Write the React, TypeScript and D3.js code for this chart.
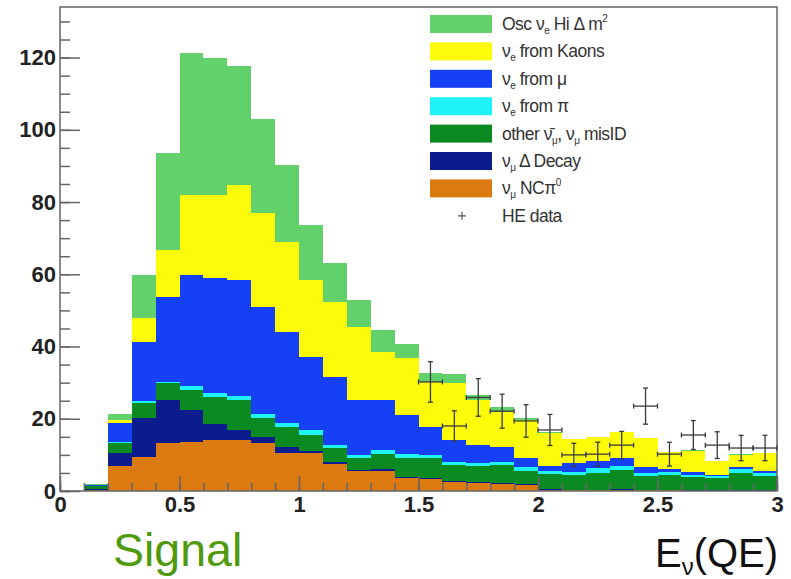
import { useEffect, useRef } from "react";
import * as d3 from "d3";

// lower edge of each 0.1 GeV bin
const binLow = [0.1, 0.2, 0.3, 0.4, 0.5, 0.6, 0.7, 0.8, 0.9, 1.0, 1.1, 1.2, 1.3, 1.4, 1.5, 1.6, 1.7, 1.8, 1.9, 2.0, 2.1, 2.2, 2.3, 2.4, 2.5, 2.6, 2.7, 2.8, 2.9];

// stacked contributions, bottom to top
const ncPi0 = [0.2, 7, 9.3, 13.3, 13.6, 14.1, 14, 13.2, 10.6, 10.5, 7.5, 5.4, 5.6, 3.5, 3.3, 2.5, 2.2, 1.9, 1.7, 0.4, 0.3, 0.3, 0.4, 0.2, 0.2, 0.1, 0.1, 0.1, 0.1];
const deltaDecay = [0.4, 3.5, 11, 11.9, 8.7, 4.4, 3, 1.8, 1.7, 0.7, 0.5, 0.5, 0.4, 0.5, 0.2, 0.2, 0.2, 0.2, 0.2, 0.1, 0.1, 0.1, 0.1, 0.1, 0.1, 0.1, 0.1, 0.1, 0.1];
const otherMisID = [0.8, 2.8, 4, 4.6, 5.7, 7.5, 8.2, 5.2, 5.4, 4.4, 3.9, 3.2, 4.2, 5.2, 5.7, 4.5, 4.5, 5.1, 3.7, 4.1, 4, 4.6, 5.3, 3.8, 4.1, 3.7, 3.4, 4.8, 4];
const nueFromPi = [0, 0.3, 0.5, 0.5, 1, 1, 1, 1, 1.1, 1.3, 0.8, 0.9, 1.1, 1.1, 0.9, 0.8, 0.8, 0.8, 1, 0.8, 0.9, 1.3, 1.1, 0.9, 0.9, 0.5, 0.6, 1.1, 0.8];
const nueFromMu = [0.2, 5.2, 16.4, 23.4, 30.7, 31.9, 32.2, 29.7, 25.2, 20.1, 18.8, 15.2, 13.9, 10.7, 7.6, 6.1, 5, 4.2, 2.5, 1.6, 2.4, 2, 2.1, 1.6, 0.8, 0.9, 0.3, 0.5, 0.5];
const nueFromKaons = [0.1, 0.8, 6.7, 13, 22.2, 23, 26.2, 26, 24.9, 21.4, 20.8, 20.2, 13.3, 15.8, 12.5, 15.9, 12.5, 9.7, 10.5, 9, 6.6, 6.7, 7.3, 8.1, 4.7, 5.7, 3.8, 3.4, 4.9];
const oscHiDm2 = [0.2, 1.6, 11.8, 26.8, 39.5, 38.1, 33.2, 26, 21.3, 15.2, 10.7, 7.4, 6, 3.9, 2.4, 2.5, 1.4, 1.3, 0.6, 0.3, 0.2, 0, 0, 0, 0, 0.4, 0, 0.3, 0];

// HE data points
const dataE = [1.55, 1.65, 1.75, 1.85, 1.95, 2.05, 2.15, 2.25, 2.35, 2.45, 2.55, 2.65, 2.75, 2.85, 2.95];
const dataCounts = [30.2, 18, 25.9, 22.1, 19.4, 16.9, 10, 10.2, 12.7, 23.5, 10.2, 15.5, 12.7, 11.9, 11.9];
const dataErr = [5.6, 4.2, 5.2, 4.7, 4.5, 4.3, 3.2, 3.3, 3.8, 5, 3.3, 4, 3.7, 3.5, 3.5];

const xTicks = [0, 0.5, 1, 1.5, 2, 2.5, 3];
const yTicks = [0, 20, 40, 60, 80, 100, 120];

const layerKeys = ["nc", "delta", "misid", "pi", "mu", "kaon", "osc"];
const layerColors = {
  nc: "#dc7a12",
  delta: "#0c1c8c",
  misid: "#0b8a22",
  pi: "#1ef4f8",
  mu: "#1540f4",
  kaon: "#fbfb0a",
  osc: "#62d16c"
};

// legend rows: [key, parts], part = [text, "sub" | "sup" | ""]
const legendRows = [
  ["osc", [["Osc ν", ""], ["e", "sub"], [" Hi Δ m", ""], ["2", "sup"]]],
  ["kaon", [["ν", ""], ["e", "sub"], [" from Kaons", ""]]],
  ["mu", [["ν", ""], ["e", "sub"], [" from μ", ""]]],
  ["pi", [["ν", ""], ["e", "sub"], [" from π", ""]]],
  ["misid", [["other ν\u0304", ""], ["μ", "sub"], [", ν", ""], ["μ", "sub"], [" misID", ""]]],
  ["delta", [["ν", ""], ["μ", "sub"], [" Δ Decay", ""]]],
  ["nc", [["ν", ""], ["μ", "sub"], [" NCπ", ""], ["0", "sup"]]],
  ["data", [["HE data", ""]]]
];

function App() {
  const svgRef = useRef(null);

  useEffect(() => {
    const svg = d3.select(svgRef.current);
    svg.selectAll("*").remove();

    const x = d3.scaleLinear().domain([0, 3]).range([60, 777]);
    const y = d3.scaleLinear().domain([0, 134]).range([491, 7]);

    const rows = binLow.map((lo, i) => ({
      lo,
      nc: ncPi0[i],
      delta: deltaDecay[i],
      misid: otherMisID[i],
      pi: nueFromPi[i],
      mu: nueFromMu[i],
      kaon: nueFromKaons[i],
      osc: oscHiDm2[i]
    }));
    const series = d3.stack().keys(layerKeys)(rows);

    const bars = svg.append("g").attr("shape-rendering", "crispEdges");
    series.forEach(layer => {
      bars.append("g")
        .attr("fill", layerColors[layer.key])
        .selectAll("rect")
        .data(layer)
        .join("rect")
        .attr("x", d => x(d.data.lo))
        .attr("width", d => x(d.data.lo + 0.1) - x(d.data.lo))
        .attr("y", d => y(d[1]))
        .attr("height", d => Math.max(0, y(d[0]) - y(d[1])));
    });

    // frame
    svg.append("rect")
      .attr("x", x(0)).attr("y", y(134))
      .attr("width", x(3) - x(0)).attr("height", y(0) - y(134))
      .attr("fill", "none").attr("stroke", "#666").attr("stroke-width", 1.5);

    // y axis, ticks pointing inward
    const yMinor = svg.append("g")
      .attr("transform", `translate(${x(0)},0)`)
      .call(d3.axisLeft(y).tickValues(d3.range(0, 131, 5)).tickSizeInner(-10).tickSizeOuter(0).tickFormat(() => ""));
    const yMajor = svg.append("g")
      .attr("transform", `translate(${x(0)},0)`)
      .call(d3.axisLeft(y).tickValues(yTicks).tickSizeInner(-20).tickSizeOuter(0).tickPadding(4));

    const xMinor = svg.append("g")
      .attr("transform", `translate(0,${y(0)})`)
      .call(d3.axisBottom(x).tickValues(d3.range(0, 3.01, 0.1)).tickSizeInner(-8).tickSizeOuter(0).tickFormat(() => ""));
    const xMajor = svg.append("g")
      .attr("transform", `translate(0,${y(0)})`)
      .call(d3.axisBottom(x).tickValues(xTicks).tickSizeInner(-15).tickSizeOuter(0).tickPadding(5).tickFormat(d3.format("")));

    [yMinor, yMajor, xMinor, xMajor].forEach(g => {
      g.select(".domain").remove();
      g.selectAll("line").attr("stroke", "#666").attr("stroke-width", 1.5);
      g.attr("font-family", "Liberation Sans, Arial, sans-serif")
        .attr("font-size", 22)
        .attr("font-weight", "bold");
      g.selectAll("text").attr("fill", "#222");
    });

    // HE data crosses
    const pts = svg.append("g").attr("stroke", "#3a3a3a").attr("stroke-width", 1.3);
    dataE.forEach((e, i) => {
      const cx = x(e), cy = y(dataCounts[i]);
      const x0 = x(e - 0.05), x1 = x(e + 0.05);
      const yTop = y(dataCounts[i] + dataErr[i]), yBot = y(dataCounts[i] - dataErr[i]);
      pts.append("line").attr("x1", x0).attr("x2", x1).attr("y1", cy).attr("y2", cy);
      pts.append("line").attr("x1", cx).attr("x2", cx).attr("y1", yTop).attr("y2", yBot);
      pts.append("line").attr("x1", cx - 2.5).attr("x2", cx + 2.5).attr("y1", yTop).attr("y2", yTop);
      pts.append("line").attr("x1", cx - 2.5).attr("x2", cx + 2.5).attr("y1", yBot).attr("y2", yBot);
      pts.append("line").attr("x1", x0).attr("x2", x0).attr("y1", cy - 2.5).attr("y2", cy + 2.5);
      pts.append("line").attr("x1", x1).attr("x2", x1).attr("y1", cy - 2.5).attr("y2", cy + 2.5);
    });

    // legend
    const legend = svg.append("g")
      .attr("font-family", "Liberation Sans, Arial, sans-serif")
      .attr("fill", "#333");
    legendRows.forEach(([key, parts], i) => {
      const cy = 24 + i * 27.4;
      if (key === "data") {
        legend.append("path")
          .attr("d", `M${458},${cy}h8M${462},${cy - 4}v8`)
          .attr("stroke", "#555").attr("stroke-width", 1.2);
      } else {
        legend.append("rect")
          .attr("x", 430).attr("y", cy - 9)
          .attr("width", 62).attr("height", 18)
          .attr("fill", layerColors[key]);
      }
      const t = legend.append("text")
        .attr("x", 502).attr("y", cy + 6)
        .attr("font-size", 17.5)
        .attr("letter-spacing", -0.5);
      parts.forEach(([txt, kind], j) => {
        const span = t.append("tspan").text(txt);
        if (kind === "sub") span.attr("font-size", 10).attr("dy", 4);
        if (kind === "sup") span.attr("font-size", 10).attr("dy", -8);
        if (kind === "" && j > 0) {
          // back to baseline after a sub/superscript
          if (parts[j - 1][1] === "sub") span.attr("dy", -4);
          if (parts[j - 1][1] === "sup") span.attr("dy", 8);
        }
      });
    });

    // captions under the plot
    svg.append("text")
      .attr("x", 113).attr("y", 566)
      .attr("font-family", "Liberation Sans, Arial, sans-serif")
      .attr("font-size", 46.5)
      .attr("fill", "#4f9a0c")
      .text("Signal");

    const ev = svg.append("text")
      .attr("x", 655).attr("y", 567)
      .attr("font-family", "Liberation Sans, Arial, sans-serif")
      .attr("font-size", 40)
      .attr("fill", "#111");
    ev.append("tspan").text("E");
    ev.append("tspan").attr("font-size", 24).attr("dy", 8).text("ν");
    ev.append("tspan").attr("dy", -8).text("(QE)");
  }, []);

  return (
    <svg
      ref={svgRef}
      width={791}
      height={579}
      style={{ position: "absolute", left: 0, top: 0, background: "#fff" }}
    ></svg>
  );
}

export default App;
